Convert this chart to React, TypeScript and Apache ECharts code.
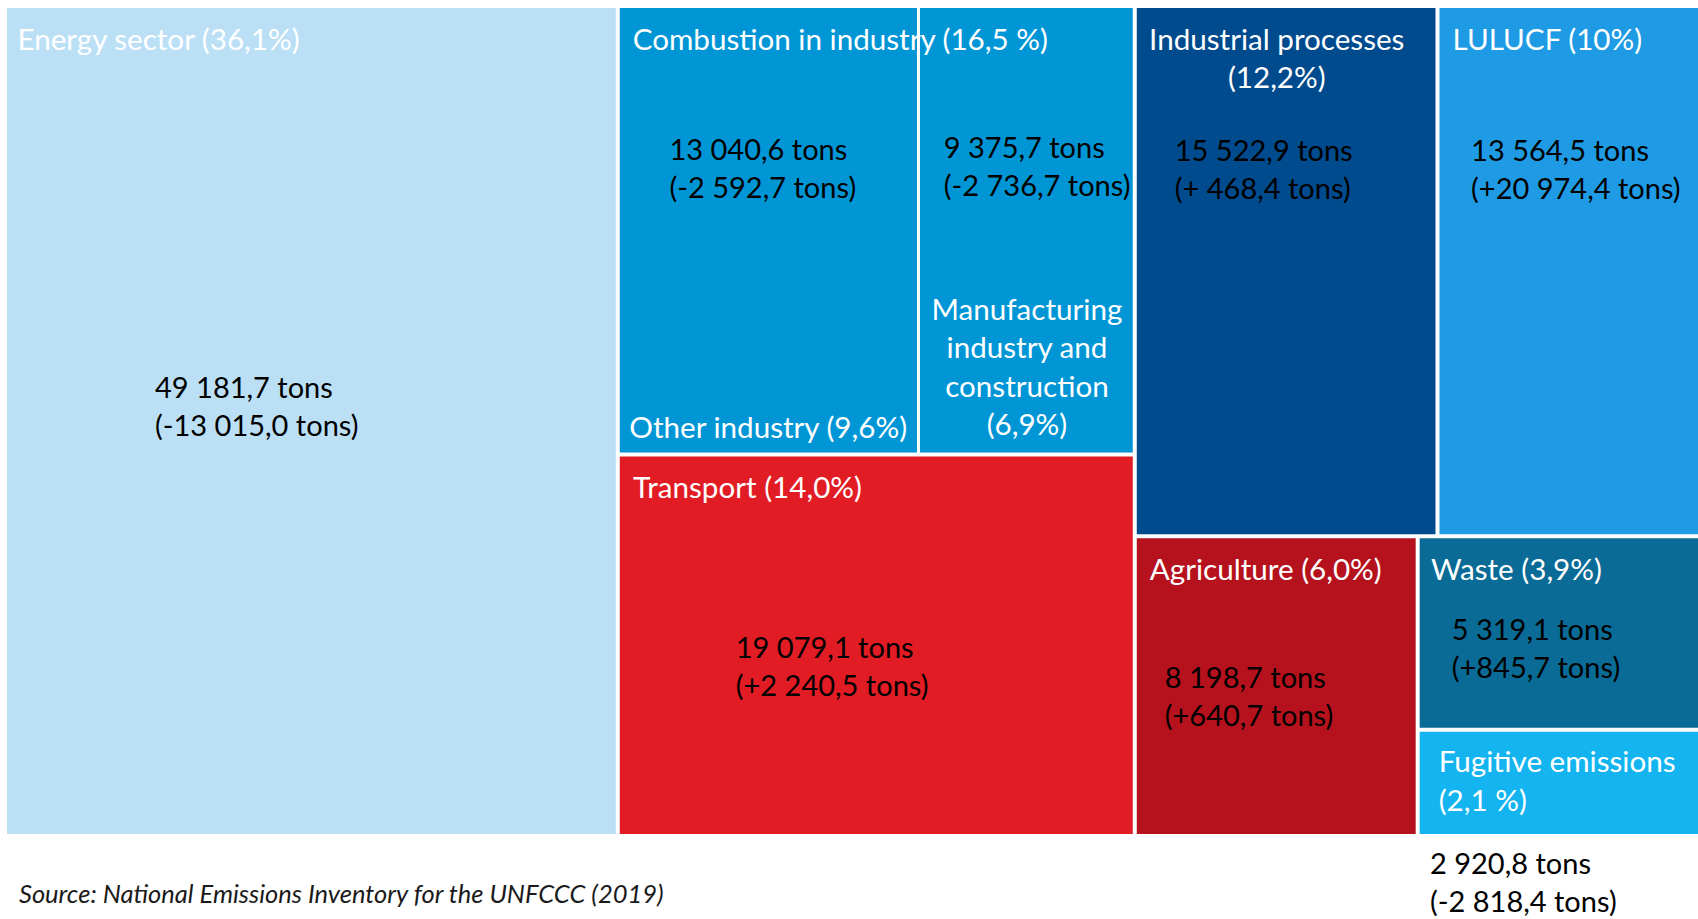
import React, { useEffect, useRef } from "react";
import * as echarts from "echarts";

// ---------- data ----------
const sectorNames = [
  "Energy sector",
  "Combustion in industry",
  "Transport",
  "Industrial processes",
  "LULUCF",
  "Agriculture",
  "Waste",
  "Fugitive emissions",
];
const sectorTitles = [
  "Energy sector (36,1%)",
  "Combustion in industry (16,5 %)",
  "Transport (14,0%)",
  "Industrial processes\n(12,2%)",
  "LULUCF (10%)",
  "Agriculture (6,0%)",
  "Waste (3,9%)",
  "Fugitive emissions\n(2,1 %)",
];
// tons (Combustion in industry = sum of its two sub-sectors)
const sectorTons = [49181.7, 0, 19079.1, 15522.9, 13564.5, 8198.7, 5319.1, 2920.8];
const sectorChanges = [
  "(-13 015,0 tons)",
  "",
  "(+2 240,5 tons)",
  "(+ 468,4 tons)",
  "(+20 974,4 tons)",
  "(+640,7 tons)",
  "(+845,7 tons)",
  "(-2 818,4 tons)",
];
const industryNames = ["Other industry", "Manufacturing industry and construction"];
const industryTitles = ["Other industry (9,6%)", "Manufacturing\nindustry and\nconstruction\n(6,9%)"];
const industryTons = [13040.6, 9375.7];
const industryChanges = ["(-2 592,7 tons)", "(-2 736,7 tons)"];
const sourceText = "Source: National Emissions Inventory for the UNFCCC (2019)";

// ---------- styles ----------
const FONT = "Lato";
const sectorColors = ["#BBE0F6", "#0096D6", "#E21C24", "#004B8D", "#1E9BE4", "#B5121D", "#0A6B96", "#14B4F0"];
const industryColors = ["#0096D6", "#0096D6"];

// label placement inside each box: [x offset, y offset of first line centre, align]
const titlePlace: Record<string, [number, number, string]> = {
  "Energy sector": [10.5, 30, "left"],
  "Combustion in industry": [13, 30, "left"],
  Transport: [13.3, 30, "left"],
  "Industrial processes": [140, 30, "center"],
  LULUCF: [13, 30, "left"],
  Agriculture: [13, 30, "left"],
  Waste: [11.4, 30, "left"],
  "Fugitive emissions": [19, 29, "left"],
  "Other industry": [9.6, 418, "left"],
  "Manufacturing industry and construction": [107, 300, "center"],
};
const valuePlace: Record<string, [number, number]> = {
  "Energy sector": [148, 378],
  Transport: [116, 190],
  "Industrial processes": [38, 141.6],
  LULUCF: [31.6, 141.6],
  Agriculture: [28, 138],
  Waste: [32, 90.4],
  "Fugitive emissions": [10.3, 131],
  "Other industry": [49.7, 140],
  "Manufacturing industry and construction": [23.8, 138],
};

const TITLE_SIZE = 29.6;
const TITLE_LH = 38.5;
const VALUE_SIZE = 29;
const VALUE_LH = 38;

const fmt = (n: number) => {
  const [i, d] = Math.abs(n).toFixed(1).split(".");
  return i.replace(/\B(?=(\d{3})+(?!\d))/g, " ") + "," + d;
};

const titleText: Record<string, string> = {};
sectorNames.forEach((n, i) => (titleText[n] = sectorTitles[i]));
industryNames.forEach((n, i) => (titleText[n] = industryTitles[i]));
const valueText: Record<string, string> = {};
sectorNames.forEach((n, i) => {
  if (sectorTons[i]) valueText[n] = fmt(sectorTons[i]) + " tons\n" + sectorChanges[i];
});
industryNames.forEach((n, i) => (valueText[n] = fmt(industryTons[i]) + " tons\n" + industryChanges[i]));

const titleLabel = (name: string) => {
  const p = titlePlace[name];
  return { show: true, position: [p[0], p[1] - TITLE_LH / 2], align: p[2], verticalAlign: "top" };
};
const valueLabel = (name: string) => {
  const p = valuePlace[name];
  return { show: true, position: [p[0], p[1] - VALUE_LH / 2], align: "left", verticalAlign: "top" };
};

const COMB = "Combustion in industry";
const combTotal = industryTons.reduce((a, b) => a + b, 0);
const CLEAR = "rgba(0,0,0,0)";

const boxData = sectorNames.map((name, i) =>
  name === COMB
    ? {
        name,
        itemStyle: { color: sectorColors[i] },
        children: industryNames.map((n, j) => ({
          name: n,
          value: industryTons[j],
          itemStyle: { color: industryColors[j] },
          label: titleLabel(n),
        })),
      }
    : { name, value: sectorTons[i], itemStyle: { color: sectorColors[i] }, label: titleLabel(name) }
);

const valueData = sectorNames.map((name, i) =>
  name === COMB
    ? {
        name,
        itemStyle: { color: CLEAR },
        children: industryNames.map((n, j) => ({
          name: n,
          value: industryTons[j],
          itemStyle: { color: CLEAR },
          label: valueLabel(n),
        })),
      }
    : { name, value: sectorTons[i], itemStyle: { color: CLEAR }, label: valueLabel(name) }
);

const groupData = sectorNames.map((name, i) =>
  name === COMB
    ? { name, value: combTotal, itemStyle: { color: CLEAR }, label: titleLabel(name) }
    : { name, value: sectorTons[i], itemStyle: { color: CLEAR }, label: { show: false } }
);

const area = { left: 7, top: 8, width: 1693, height: 826 };
const base = {
  type: "treemap",
  ...area,
  squareRatio: 1.1,
  roam: false,
  nodeClick: false,
  silent: true,
  breadcrumb: { show: false },
  upperLabel: { show: false },
  emphasis: { disabled: true },
};
const levels = (border: string, clear: boolean) => [
  { ...(clear ? { color: [CLEAR] } : {}), itemStyle: { gapWidth: 4, borderWidth: 0, borderColor: border } },
  { itemStyle: { gapWidth: 3, borderWidth: 0, borderColor: border } },
  { itemStyle: { gapWidth: 0, borderWidth: 0, borderColor: border } },
];

const labelBase = { show: true, fontFamily: FONT, padding: 0, overflow: "none" };

const option = {
  animation: false,
  title: {
    text: sourceText,
    left: 19,
    top: 880,
    padding: 0,
    textStyle: { fontFamily: FONT, fontStyle: "italic", fontWeight: "normal", fontSize: 25.5, color: "#1a1a1a" },
  },
  series: [
    {
      ...base,
      name: "boxes",
      z: 2,
      itemStyle: { borderWidth: 0, gapWidth: 0, borderColor: "#fff" },
      levels: levels("#fff", false),
      label: {
        ...labelBase,
        color: "#fff",
        fontSize: TITLE_SIZE,
        lineHeight: TITLE_LH,
        formatter: (p: any) => titleText[p.name] || "",
      },
      data: boxData,
    },
    {
      ...base,
      name: "values",
      z: 4,
      color: [CLEAR],
      itemStyle: { color: CLEAR, borderWidth: 0, gapWidth: 0, borderColor: CLEAR },
      levels: levels(CLEAR, true),
      label: {
        ...labelBase,
        color: "#000",
        fontSize: VALUE_SIZE,
        lineHeight: VALUE_LH,
        formatter: (p: any) => valueText[p.name] || "",
      },
      data: valueData,
    },
    {
      ...base,
      name: "groups",
      z: 5,
      color: [CLEAR],
      itemStyle: { color: CLEAR, borderWidth: 0, gapWidth: 0, borderColor: CLEAR },
      levels: levels(CLEAR, true),
      label: {
        ...labelBase,
        color: "#fff",
        fontSize: TITLE_SIZE,
        lineHeight: TITLE_LH,
        formatter: (p: any) => titleText[p.name] || "",
      },
      data: groupData,
    },
  ],
};

export default function App() {
  const ref = useRef<HTMLDivElement>(null);
  useEffect(() => {
    const chart = echarts.init(ref.current!, null, { renderer: "svg" });
    chart.setOption(option as any);
    return () => chart.dispose();
  }, []);
  return (
    <div
      ref={ref}
      style={{ position: "fixed", left: 0, top: 0, width: 1698, height: 919, background: "#fff" }}
    />
  );
}
